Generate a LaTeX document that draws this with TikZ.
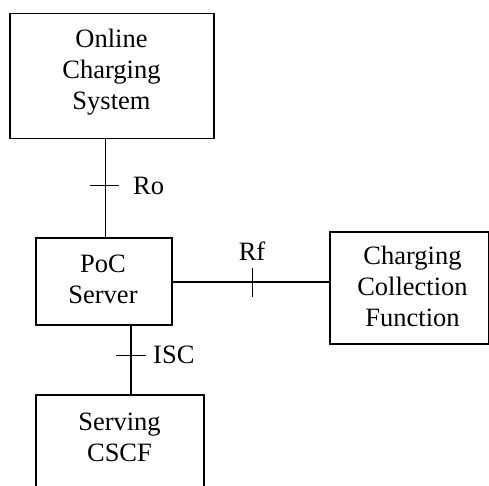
\documentclass[tikz,border=0pt]{standalone}
\usepackage{fontspec}
\setmainfont{Liberation Serif}
\begin{document}
\begin{tikzpicture}[x=1pt,y=-1pt,
  box/.style={draw, line width=1.5pt, inner sep=0pt, anchor=north west},
  txt/.style={align=center, anchor=base, inner sep=0pt, font=\fontsize{26.5}{31}\selectfont},
  lbl/.style={inner sep=0pt, font=\fontsize{26.5}{31}\selectfont},
  conn/.style={line width=1.5pt}]
\useasboundingbox (0,0) rectangle (489,486);
\clip (0,0) rectangle (489,486);
\fill[white] (0,0) rectangle (489,486);
% boxes
\node[box, minimum width=204pt, minimum height=125pt] (ocs) at (9,13) {};
\node[box, minimum width=136pt, minimum height=87pt] (poc) at (35,237) {};
\node[box, minimum width=158.5pt, minimum height=112pt] (ccf) at (329,231) {};
\node[box, minimum width=168pt, minimum height=120pt] (cscf) at (35,394.3) {};
% box texts (base = baseline of the last line)
\node[txt] (ocs-t) at (111.5,110) {Online\\Charging\\System};
\node[txt] (poc-t) at (103,303) {PoC\\Server};
\node[txt] (ccf-t) at (412.5,326.5) {Charging\\Collection\\Function};
\node[txt] (cscf-t) at (119.5,461) {Serving\\CSCF};
% connectors
\coordinate (roTick) at (105.3,185.5);
\draw[conn] (ocs.south -| roTick) -- (poc.north -| roTick);
\draw[conn] ([xshift=-15pt]roTick) -- ([xshift=14pt]roTick);
\node[lbl, anchor=base west] (ro) at (133,194) {Ro};

\coordinate (rfTick) at (252.7,282);
\draw[conn] (poc.east |- rfTick) -- (ccf.west |- rfTick);
\draw[conn] ([yshift=-14.5pt]rfTick) -- ([yshift=14.5pt]rfTick);
\node[lbl, anchor=base] (rf) at (252,260) {Rf};

\coordinate (iscTick) at (131,355.7);
\draw[conn] (poc.south -| iscTick) -- (cscf.north -| iscTick);
\draw[conn] ([xshift=-15pt]iscTick) -- ([xshift=15pt]iscTick);
\node[lbl, anchor=base west] (isc) at (153,363) {ISC};
\end{tikzpicture}
\end{document}
